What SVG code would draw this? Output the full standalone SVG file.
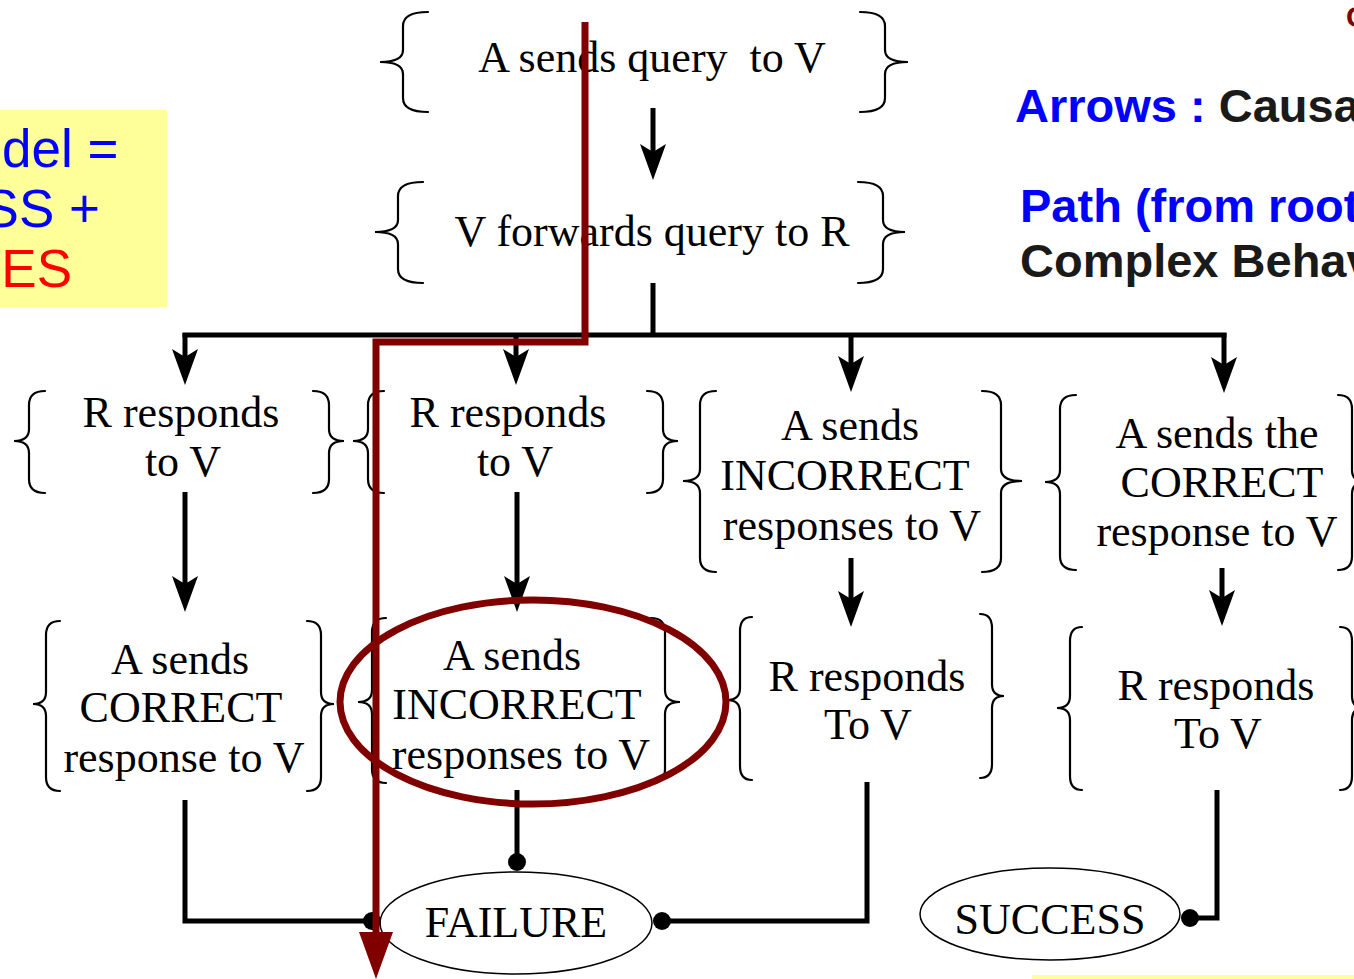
<svg xmlns="http://www.w3.org/2000/svg" width="1354" height="979" viewBox="0 0 1354 979">
<style>
.t{font-family:"Liberation Serif","Times New Roman",serif;font-size:44px;text-anchor:middle;fill:#000}
.br{fill:none;stroke:#000;stroke-width:2.2;stroke-linecap:round}
.c{fill:none;stroke:#000;stroke-width:5}
.ar{fill:none;stroke:#000;stroke-width:5;marker-end:url(#ah)}
.dot{fill:#000}
.ov{fill:#fff;stroke:#000;stroke-width:1.5}
.s{font-family:"Liberation Sans",Arial,sans-serif;font-weight:bold;font-size:47px}
.y{font-family:"Liberation Sans",Arial,sans-serif;font-size:53px}
.red{fill:none;stroke:#800000;stroke-width:7}
</style>
<defs>
<marker id="ah" markerUnits="userSpaceOnUse" markerWidth="36" markerHeight="28" viewBox="0 0 36 28" refX="14" refY="14" orient="auto">
<path d="M0,1 L36,14 L0,27 L8,14 z" fill="#000"/>
</marker>
</defs>
<rect width="1354" height="979" fill="#fff"/>

<g id="legend-left">
<rect x="0" y="110" width="167" height="197" fill="#ffff99"/>
<text class="y" x="2" y="167" fill="#0000ff">del =</text>
<text class="y" x="100" y="227" fill="#0000ff" text-anchor="end">SS +</text>
<text class="y" x="72" y="287" fill="#ff0000" text-anchor="end">ES</text>
</g>

<g id="legend-right">
<text class="s" x="1015" y="122"><tspan fill="#0000ff">Arrows : </tspan><tspan fill="#1a1a1a">Causa</tspan></text>
<text class="s" x="1020" y="222" fill="#0000ff">Path (from root</text>
<text class="s" x="1020" y="277" fill="#1a1a1a">Complex Behav</text>
<text x="1346" y="27" font-family="Liberation Sans,sans-serif" font-weight="bold" font-size="30" fill="#800000">C</text>
<rect x="1032" y="975" width="322" height="4" fill="#ffff99"/>
</g>

<g id="n1">
<path class="br" d="M428,12 Q403,12 403,26 L403,50 Q403,62 380,62 Q403,62 403,74 L403,98 Q403,112 428,112"/>
<path class="br" d="M860,12 Q885,12 885,26 L885,50 Q885,62 908,62 Q885,62 885,74 L885,98 Q885,112 860,112"/>
<text class="t" x="652" y="72" xml:space="preserve">A sends query  to V</text>
</g>
<g id="n2">
<path class="br" d="M423,182 Q398,182 398,196 L398,220 Q398,232 375,232 Q398,232 398,244 L398,269 Q398,283 423,283"/>
<path class="br" d="M858,182 Q883,182 883,196 L883,220 Q883,232 905,232 Q883,232 883,244 L883,269 Q883,283 858,283"/>
<text class="t" x="652" y="246">V forwards query to R</text>
</g>
<g id="n3a">
<path class="br" d="M45,391 Q29,391 29,405 L29,429 Q29,441 14,441 Q29,441 29,453 L29,479 Q29,493 45,493"/>
<path class="br" d="M313,391 Q329,391 329,405 L329,429 Q329,441 344,441 Q329,441 329,453 L329,479 Q329,493 313,493"/>
<text class="t" x="181" y="427">R responds</text>
<text class="t" x="183" y="476">to V</text>
</g>
<g id="n3b">
<path class="br" d="M384,391 Q368,391 368,405 L368,429 Q368,441 353,441 Q368,441 368,453 L368,479 Q368,493 384,493"/>
<path class="br" d="M647,391 Q663,391 663,405 L663,429 Q663,441 678,441 Q663,441 663,453 L663,479 Q663,493 647,493"/>
<text class="t" x="508" y="427">R responds</text>
<text class="t" x="515" y="476">to V</text>
</g>
<g id="n3c">
<path class="br" d="M716,391 Q700,391 700,405 L700,469 Q700,481 683,481 Q700,481 700,493 L700,558 Q700,572 716,572"/>
<path class="br" d="M982,391 Q1001,391 1001,405 L1001,469 Q1001,481 1022,481 Q1001,481 1001,493 L1001,558 Q1001,572 982,572"/>
<text class="t" x="850" y="440">A sends</text>
<text class="t" x="845" y="490">INCORRECT</text>
<text class="t" x="852" y="540">responses to V</text>
</g>
<g id="n3d">
<path class="br" d="M1076,395 Q1060,395 1060,409 L1060,470 Q1060,482 1045,482 Q1060,482 1060,494 L1060,556 Q1060,570 1076,570"/>
<path class="br" d="M1338,395 Q1352,395 1352,409 L1352,470 Q1352,482 1366,482 Q1352,482 1352,494 L1352,556 Q1352,570 1338,570"/>
<text class="t" x="1217" y="448">A sends the</text>
<text class="t" x="1222" y="497">CORRECT</text>
<text class="t" x="1217" y="546">response to V</text>
</g>
<g id="n4a">
<path class="br" d="M60,621 Q46,621 46,635 L46,692 Q46,704 33,704 Q46,704 46,716 L46,777 Q46,791 60,791"/>
<path class="br" d="M307,621 Q321,621 321,635 L321,692 Q321,704 334,704 Q321,704 321,716 L321,777 Q321,791 307,791"/>
<text class="t" x="180" y="674">A sends</text>
<text class="t" x="181" y="722">CORRECT</text>
<text class="t" x="184" y="772">response to V</text>
</g>
<g id="n4b">
<path class="br" d="M386,618 Q372,618 372,632 L372,690 Q372,702 358,702 Q372,702 372,714 L372,769 Q372,783 386,783"/>
<path class="br" d="M651,618 Q665,618 665,632 L665,690 Q665,702 680,702 Q665,702 665,714 L665,769 Q665,783 651,783"/>
<text class="t" x="512" y="670">A sends</text>
<text class="t" x="517" y="719">INCORRECT</text>
<text class="t" x="521" y="769">responses to V</text>
</g>
<g id="n4c">
<path class="br" d="M752,617 Q740,617 740,631 L740,688 Q740,700 727,700 Q740,700 740,712 L740,766 Q740,780 752,780"/>
<path class="br" d="M980,614 Q992,614 992,628 L992,684 Q992,696 1004,696 Q992,696 992,708 L992,764 Q992,778 980,778"/>
<text class="t" x="867" y="691">R responds</text>
<text class="t" x="868" y="739">To V</text>
</g>
<g id="n4d">
<path class="br" d="M1082,627 Q1070,627 1070,641 L1070,696 Q1070,708 1057,708 Q1070,708 1070,720 L1070,776 Q1070,790 1082,790"/>
<path class="br" d="M1340,627 Q1352,627 1352,641 L1352,696 Q1352,708 1364,708 Q1352,708 1352,720 L1352,776 Q1352,790 1340,790"/>
<text class="t" x="1216" y="700">R responds</text>
<text class="t" x="1218" y="748">To V</text>
</g>
<g id="failure">
<ellipse class="ov" cx="516" cy="923" rx="136" ry="51"/>
<text class="t" x="516" y="937">FAILURE</text>
</g>
<g id="success">
<ellipse class="ov" cx="1050" cy="914" rx="130" ry="46"/>
<text class="t" x="1050" y="934">SUCCESS</text>
</g>

<g id="connectors">
<path class="ar" d="M653,108 V158"/>
<path class="c" d="M653,283 V335"/>
<path class="c" d="M185,335 H1224" stroke-linecap="square"/>
<path class="ar" d="M185,333 V363"/>
<path class="ar" d="M516,333 V363"/>
<path class="ar" d="M851,333 V370"/>
<path class="ar" d="M1224,333 V371"/>
<path class="ar" d="M185,492 V590"/>
<path class="ar" d="M517,492 V590"/>
<path class="ar" d="M851,558 V605"/>
<path class="ar" d="M1222,568 V604"/>
<path class="c" d="M185,800 V921 H372"/>
<circle class="dot" cx="372" cy="921" r="9"/>
<path class="c" d="M517,790 V862"/>
<circle class="dot" cx="517" cy="862" r="9"/>
<path class="c" d="M867,782 V921 H662"/>
<circle class="dot" cx="662" cy="921" r="9"/>
<path class="c" d="M1217,790 V918 H1190"/>
<circle class="dot" cx="1190" cy="918" r="9"/>
</g>

<g id="highlight">
<ellipse class="red" cx="533" cy="702" rx="193" ry="102" stroke-width="6"/>
<path class="red" d="M585,22 V342 H376 V940"/>
<path d="M359,932 L393,932 L376,979 z" fill="#800000"/>
</g>
</svg>
